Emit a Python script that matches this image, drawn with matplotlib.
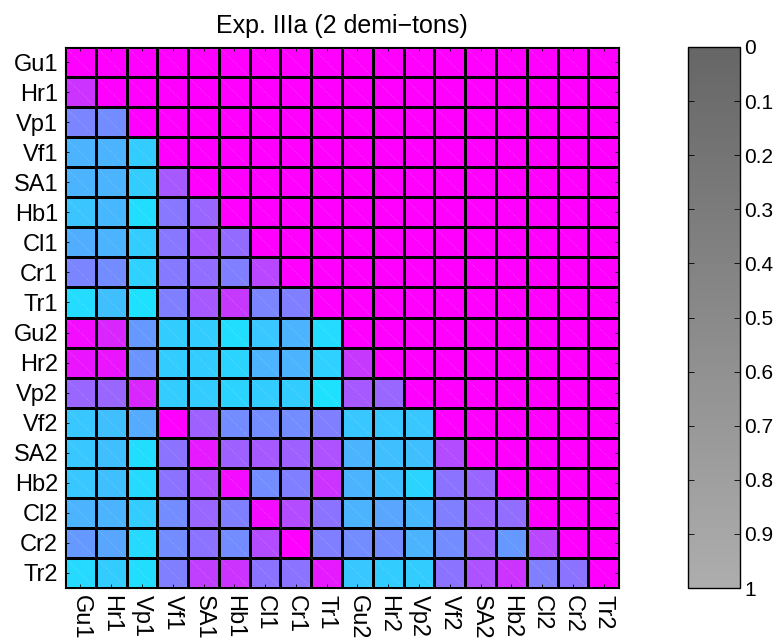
import numpy as np
import matplotlib
matplotlib.use('Agg')
import matplotlib.pyplot as plt
from matplotlib.colors import LinearSegmentedColormap, Normalize
from matplotlib.collections import LineCollection
import matplotlib.colorbar as mcolorbar

plt.rcParams['font.family'] = ['Liberation Sans', 'DejaVu Sans']

labels = ['Gu1', 'Hr1', 'Vp1', 'Vf1', 'SA1', 'Hb1', 'Cl1', 'Cr1', 'Tr1',
          'Gu2', 'Hr2', 'Vp2', 'Vf2', 'SA2', 'Hb2', 'Cl2', 'Cr2', 'Tr2']

# lower triangle values, row by row (diagonal and upper part are 1)
lower = [
    [],
    [0.80],
    [0.48, 0.45],
    [0.30, 0.30, 0.20],
    [0.30, 0.30, 0.20, 0.65],
    [0.23, 0.28, 0.13, 0.53, 0.60],
    [0.32, 0.30, 0.20, 0.53, 0.65, 0.58],
    [0.48, 0.45, 0.18, 0.52, 0.57, 0.50, 0.72],
    [0.14, 0.25, 0.12, 0.50, 0.65, 0.78, 0.48, 0.50],
    [0.95, 0.85, 0.40, 0.20, 0.20, 0.13, 0.22, 0.30, 0.14],
    [0.92, 0.92, 0.42, 0.20, 0.20, 0.17, 0.30, 0.30, 0.18, 0.78],
    [0.60, 0.60, 0.85, 0.20, 0.20, 0.17, 0.20, 0.20, 0.12, 0.65, 0.60],
    [0.22, 0.25, 0.33, 1.00, 0.62, 0.45, 0.45, 0.45, 0.50, 0.22, 0.22, 0.22],
    [0.22, 0.25, 0.13, 0.55, 0.90, 0.62, 0.65, 0.62, 0.68, 0.30, 0.25, 0.25, 0.70],
    [0.22, 0.25, 0.15, 0.55, 0.68, 0.95, 0.45, 0.50, 0.80, 0.30, 0.25, 0.17, 0.55, 0.60],
    [0.30, 0.30, 0.20, 0.45, 0.60, 0.50, 0.95, 0.70, 0.55, 0.30, 0.35, 0.28, 0.50, 0.60, 0.57],
    [0.40, 0.35, 0.15, 0.45, 0.55, 0.45, 0.70, 1.00, 0.50, 0.45, 0.45, 0.30, 0.45, 0.60, 0.40, 0.72],
    [0.15, 0.20, 0.13, 0.50, 0.75, 0.80, 0.55, 0.55, 0.90, 0.22, 0.20, 0.20, 0.55, 0.68, 0.80, 0.50, 0.55],
]

n = len(labels)
M = np.ones((n, n))
for i, row in enumerate(lower):
    M[i, :len(row)] = row

fig = plt.figure(figsize=(7.76, 6.42), dpi=100)
ax = fig.add_axes([0.0838, 0.0841, 0.714, 0.8427])
ax.pcolormesh(M, cmap='cool', vmin=0, vmax=1, edgecolors='k', linewidth=0.75)

# faint diagonal seams inside each cell
segs = [[(j, i), (j + 1, i + 1)] for i in range(n) for j in range(n)]
ax.add_collection(LineCollection(segs, colors='white', linewidths=0.5,
                                 linestyles=':', alpha=0.35))

ax.set_xlim(0, n)
ax.set_ylim(n, 0)
ax.set_xticks(np.arange(n) + 0.5)
ax.set_yticks(np.arange(n) + 0.5)
ax.set_xticklabels(labels, rotation=270, fontsize=17)
ax.set_yticklabels(labels, fontsize=17)
ax.tick_params(direction='in', length=3, top=True, right=True, pad=5, width=0.6)
for s in ax.spines.values():
    s.set_linewidth(0.8)
ax.set_title('Exp. IIIa (2 demi\u2212tons)', fontsize=18, pad=10)

# grey colorbar, 0 at top
cax = fig.add_axes([0.8866, 0.0841, 0.067, 0.8427])
greys = LinearSegmentedColormap.from_list('g', [(0.40, 0.40, 0.40), (0.68, 0.68, 0.68)])
cb = mcolorbar.ColorbarBase(cax, cmap=greys, norm=Normalize(0, 1))
cb.set_ticks(np.round(np.arange(0, 1.01, 0.1), 1))
cb.set_ticklabels(['0', '0.1', '0.2', '0.3', '0.4', '0.5', '0.6', '0.7', '0.8', '0.9', '1'])
cax.invert_yaxis()
cax.tick_params(direction='in', length=4, labelsize=15, left=True, right=True, pad=3, width=0.6)
cb.outline.set_linewidth(1)

fig.savefig('out.png', dpi=100)
